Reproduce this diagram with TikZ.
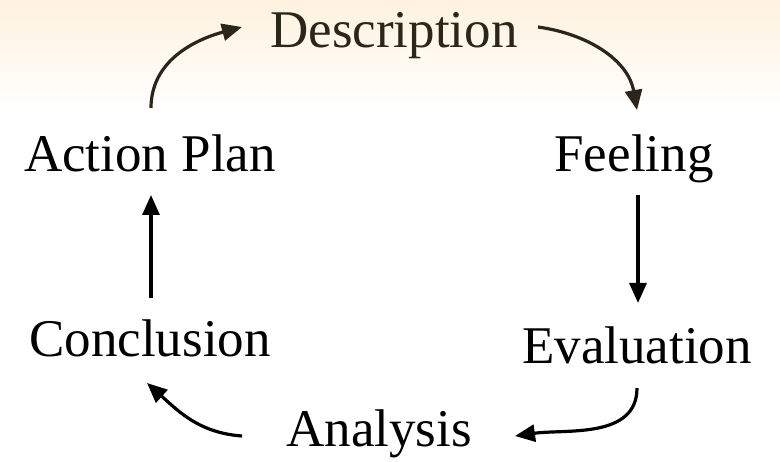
\documentclass[tikz,border=0pt]{standalone}
\usepackage{fontspec}
\setmainfont{Liberation Serif}
\usetikzlibrary{arrows.meta}
\definecolor{peach}{RGB}{254,242,222}
\definecolor{olive}{RGB}{42,38,26}
\tikzset{
  stage/.style={inner sep=0pt, anchor=base, font=\fontsize{53}{60}\selectfont},
  flow/.style={line width=3.2pt, -{Triangle[length=20pt,width=17pt]}},
}
\begin{document}
\begin{tikzpicture}[x=1pt,y=1pt]
  \useasboundingbox (0,0) rectangle (780,462);
  % soft warm band along the top edge
  \shade[top color=peach, bottom color=white] (0,350) rectangle (780,462);

  % the six stages of the cycle
  \node[stage, text=olive] (desc)   at (394,414) {Description};
  \node[stage] (feel)   at (634,290) {Feeling};
  \node[stage] (eval)   at (637,98)  {Evaluation};
  \node[stage] (anal)   at (379,15)  {Analysis};
  \node[stage] (concl)  at (150,105) {Conclusion};
  \node[stage] (action) at (150,290) {Action Plan};

  % connectors, clockwise
  \draw[flow, draw=olive] ([shift={(144,21)}]desc.base) to[out=-8, in=100] ([shift={(3,62)}]feel.base);
  \draw[flow] ([shift={(4,-23)}]feel.base) -- ([shift={(1,61)}]eval.base);
  \draw[flow] ([shift={(0,-24)}]eval.base) to[out=-90, in=8] ([shift={(136,11)}]anal.base);
  \draw[flow] ([shift={(-137,11)}]anal.base) to[out=176, in=-42] ([shift={(-3,-26)}]concl.base);
  \draw[flow] ([shift={(1,59)}]concl.base) -- ([shift={(1,-23)}]action.base);
  \draw[flow, draw=olive] ([shift={(1,64)}]action.base) to[out=90, in=195] ([shift={(-152,21)}]desc.base);
\end{tikzpicture}
\end{document}
